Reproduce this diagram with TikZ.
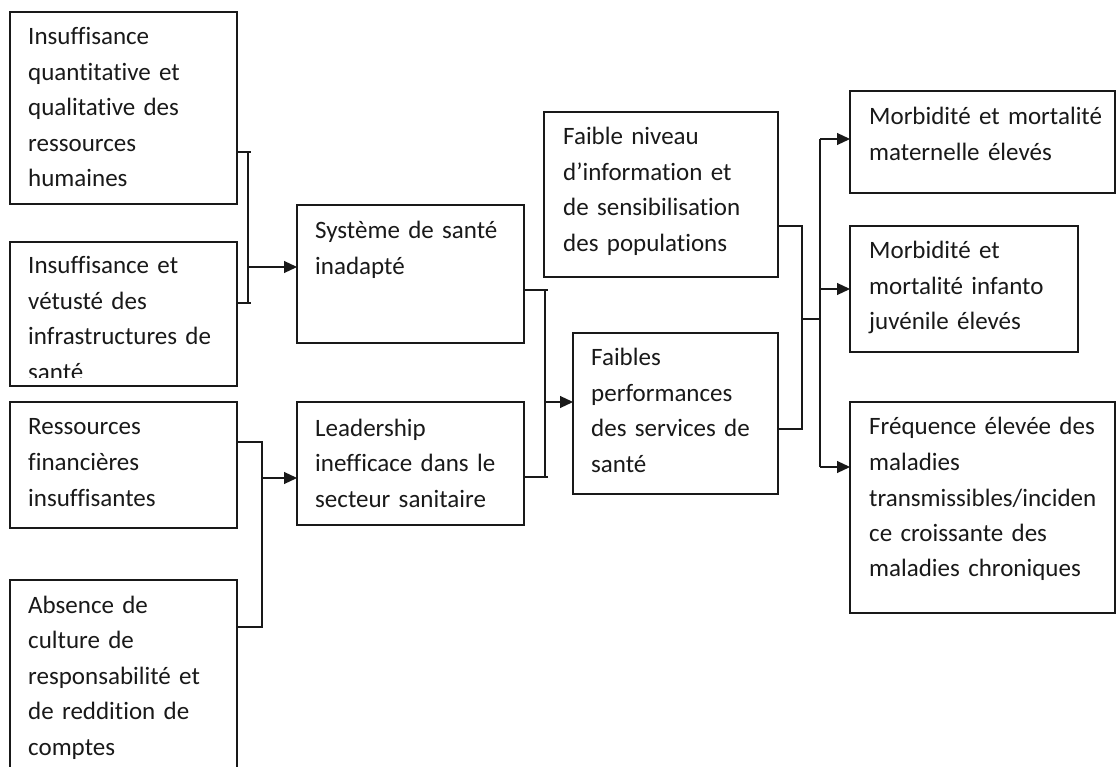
\documentclass[tikz,border=0pt]{standalone}
\usepackage{fontspec}
\setmainfont{Carlito}[RawFeature={-liga;-clig;-dlig}]
\usetikzlibrary{arrows.meta}
\begin{document}
\begin{tikzpicture}[x=1pt,y=-1pt,
  box/.style={draw=black!90, line width=1.1pt, inner sep=0pt, outer sep=0pt, anchor=north west},
  txt/.style={anchor=base west, inner sep=0pt, align=left, text width=300pt, text=black!90,
              font=\fontsize{25}{35.5}\selectfont},
  conn/.style={draw=black!90, line width=1.1pt},
  arr/.style={conn, -{Triangle[length=13pt,width=12pt]}}]
\clip (0,0) rectangle (1117,767);
\fill[white] (0,0) rectangle (1117,767);

% left column
\node[box, minimum width=227pt, minimum height=192pt] (A) at (10,12) {};
\node[txt] (tA) at (28,45) {Insuffisance\\quantitative et\\qualitative des\\ressources\\humaines};
\node[box, minimum width=227pt, minimum height=144pt] (B) at (10,242) {};
\begin{scope}
\clip (10,242) rectangle (237,378);
\node[txt] (tB) at (28,274) {Insuffisance et\\vétusté des\\infrastructures de\\santé};
\end{scope}
\node[box, minimum width=227pt, minimum height=126pt] (J) at (10,402) {};
\node[txt] (tJ) at (28,435) {Ressources\\financières\\insuffisantes};
\node[box, minimum width=227pt, minimum height=230pt] (K) at (10,580) {};
\node[txt] (tK) at (28,613) {Absence de\\culture de\\responsabilité et\\de reddition de\\comptes};

% second column
\node[box, minimum width=227pt, minimum height=138pt] (C) at (297,205) {};
\node[txt] (tC) at (315,239) {Système de santé\\inadapté};
\node[box, minimum width=227pt, minimum height=123pt] (D) at (297,402) {};
\node[txt] (tD) at (315,436) {Leadership\\inefficace dans le\\secteur sanitaire};

% third column
\node[box, minimum width=234pt, minimum height=165pt] (E) at (544,112) {};
\node[txt] (tE) at (563,145) {Faible niveau\\d’information et\\de sensibilisation\\des populations};
\node[box, minimum width=205pt, minimum height=161pt] (F) at (573,333) {};
\node[txt] (tF) at (591,366) {Faibles\\performances\\des services de\\santé};

% right column
\node[box, minimum width=265pt, minimum height=102pt] (G) at (850,91) {};
\node[txt] (tG) at (869,125) {Morbidité et mortalité\\maternelle élevés};
\node[box, minimum width=228pt, minimum height=126pt] (H) at (850,226) {};
\node[txt] (tH) at (869,259) {Morbidité et\\mortalité infanto\\juvénile élevés};
\node[box, minimum width=265pt, minimum height=211pt] (I) at (850,402) {};
\node[txt] (tI) at (869,435) {Fréquence élevée des\\maladies\\transmissibles/inciden\\ce croissante des\\maladies chroniques};

% junction coordinates
\coordinate (jAB) at (248,267);
\coordinate (jJK) at (262,478);
\coordinate (jCD) at (545,402);
\coordinate (jEF) at (802,319);
\coordinate (jOut) at (820,319);

% bracket A/B -> C
\draw[conn] (A.east |- 0,152) -- (251,152);
\draw[conn] (B.east |- 0,303) -- (251,303);
\draw[conn] (jAB |- 0,152) -- (jAB |- 0,303);
\draw[arr] (jAB) -- (C.west |- jAB);

% bracket J/K -> D
\draw[conn] (J.east |- 0,442) -| (jJK) |- (K.east |- 0,627);
\draw[arr] (jJK) -- (D.west |- jJK);

% bracket C/D -> F
\draw[conn] (C.east |- 0,290) -- (548,290);
\draw[conn] (D.east |- 0,477) -- (548,477);
\draw[conn] (jCD |- 0,290) -- (jCD |- 0,477);
\draw[arr] (jCD) -- (F.west |- jCD);

% bracket E/F -> outputs
\draw[conn] (E.east |- 0,226) -| (jEF) |- (F.east |- 0,429);
\draw[conn] (jEF) -- (jOut);
\draw[conn] (jOut |- 0,139) -- (jOut |- 0,467);
\draw[arr] (jOut |- 0,139) -- (G.west |- 0,139);
\draw[arr] (jOut |- 0,289) -- (H.west |- 0,289);
\draw[arr] (jOut |- 0,467) -- (I.west |- 0,467);
\end{tikzpicture}
\end{document}
